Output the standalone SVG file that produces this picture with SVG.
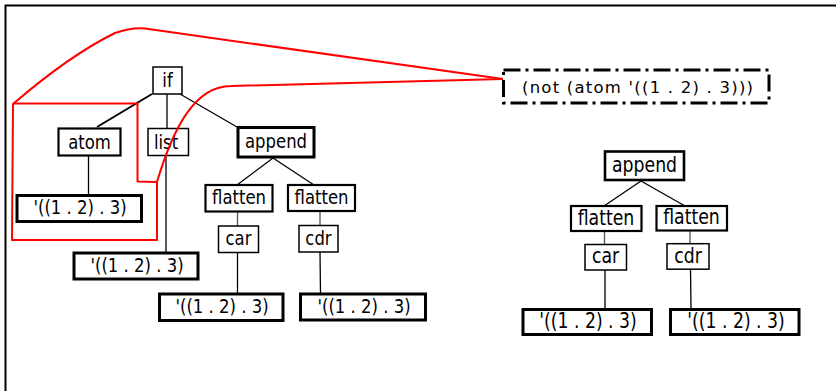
<svg xmlns="http://www.w3.org/2000/svg" width="837" height="391" viewBox="0 0 837 391">
<style>
text{font-family:"DejaVu Sans","Liberation Sans",sans-serif;font-size:16.5px;fill:#000;text-anchor:middle}
.r text{font-size:17.3px}
rect{fill:#fff;stroke:#000}
.t1{stroke-width:1.5}
.t2{stroke-width:2.2}
.t3{stroke-width:3}
.c line{stroke:#000;stroke-width:1.3}
.c line.g{stroke:#555}
.red{fill:none;stroke:#f00;stroke-width:2;stroke-linejoin:round}
</style>
<rect x="0" y="0" width="837" height="391" style="fill:#fff;stroke:none"/>
<path d="M5.5,391 V5.5 H836" fill="none" stroke="#000" stroke-width="2"/>

<g id="connectors" class="c">
<line x1="152" y1="94" x2="97" y2="127" style="stroke-width:2"/>
<line x1="167" y1="94" x2="167" y2="128.5"/>
<line x1="180" y1="94" x2="237" y2="127"/>
<line x1="88.5" y1="156" x2="88.5" y2="195.5"/>
<line x1="166" y1="156" x2="166" y2="253"/>
<line x1="273" y1="158" x2="237" y2="185"/>
<line x1="273" y1="158" x2="314" y2="185"/>
<line class="g" x1="237.5" y1="212" x2="237.5" y2="226"/>
<line class="g" x1="320" y1="211" x2="320" y2="225.5"/>
<line x1="237.5" y1="252.5" x2="237.5" y2="294"/>
<line x1="320" y1="252" x2="320.5" y2="294"/>
<line x1="641" y1="181" x2="604" y2="206"/>
<line x1="641" y1="181" x2="685" y2="206"/>
<line class="g" x1="604.5" y1="231" x2="604.5" y2="244.5"/>
<line class="g" x1="690" y1="230.5" x2="690" y2="243.7"/>
<line x1="605" y1="270" x2="605" y2="309.5"/>
<line x1="690.5" y1="269" x2="691" y2="309.5"/>
</g>

<g id="n-if"><rect class="t1" x="153" y="67" width="29" height="27"/><text transform="translate(167.5 86.5) scale(1 1.18)">if</text></g>
<g id="n-atom"><rect class="t2" x="58.5" y="128.5" width="62" height="27"/><text transform="translate(89.5 148.5) scale(1 1.18)">atom</text></g>
<g id="n-list"><rect class="t1" x="148" y="128.5" width="40.5" height="27"/><text transform="translate(166 148.5) scale(1 1.18)">list</text></g>
<g id="n-append"><rect class="t3" x="238" y="127.5" width="76" height="29.5"/><text transform="translate(276 148) scale(1 1.18)">append</text></g>
<g id="n-flatten1"><rect class="t2" x="205.5" y="185" width="67" height="26.5"/><text transform="translate(239 203.7) scale(1 1.18)">flatten</text></g>
<g id="n-flatten2"><rect class="t2" x="288" y="185" width="67" height="26"/><text transform="translate(321.5 203.5) scale(1 1.18)">flatten</text></g>
<g id="n-car1"><rect class="t1" x="218.5" y="226" width="40" height="26.5"/><text transform="translate(238.5 245) scale(1 1.18)">car</text></g>
<g id="n-cdr1"><rect class="t1" x="299" y="225.5" width="39" height="26.5"/><text transform="translate(318.5 244.5) scale(1 1.18)">cdr</text></g>
<g id="n-leaf-atom"><rect class="t3" x="17" y="195.5" width="124.5" height="26"/><text transform="translate(80 214) scale(1 1.18)">'((1 . 2) . 3)</text></g>
<g id="n-leaf-list"><rect class="t3" x="74" y="253" width="124" height="26"/><text transform="translate(137 271.5) scale(1 1.18)">'((1 . 2) . 3)</text></g>
<g id="n-leaf-car1"><rect class="t3" x="159.5" y="294" width="123.5" height="26.5"/><text transform="translate(222 312.7) scale(1 1.18)">'((1 . 2) . 3)</text></g>
<g id="n-leaf-cdr1"><rect class="t3" x="300.5" y="294" width="125" height="26"/><text transform="translate(364 312.5) scale(1 1.18)">'((1 . 2) . 3)</text></g>

<g class="r">
<g id="n-append2"><rect class="t3" x="605" y="151.5" width="79" height="28.5" style="stroke-width:2.6"/><text transform="translate(644.5 171.7) scale(1 1.18)">append</text></g>
<g id="n-flatten3"><rect class="t2" x="571" y="206" width="70.5" height="25"/><text transform="translate(606 224.5) scale(1 1.18)">flatten</text></g>
<g id="n-flatten4"><rect class="t2" x="656.5" y="206" width="70.5" height="24.5"/><text transform="translate(691.5 224.3) scale(1 1.18)">flatten</text></g>
<g id="n-car2"><rect class="t1" x="585" y="244.5" width="41.5" height="25.5"/><text transform="translate(605.5 263.2) scale(1 1.18)">car</text></g>
<g id="n-cdr2"><rect class="t1" x="667" y="243.7" width="42" height="25.5"/><text transform="translate(688 262.5) scale(1 1.18)">cdr</text></g>
<g id="n-leaf-car2"><rect class="t3" x="523" y="309.5" width="128.5" height="25"/><text transform="translate(588 328) scale(1 1.18)">'((1 . 2) . 3)</text></g>
<g id="n-leaf-cdr2"><rect class="t3" x="670.5" y="309.5" width="128.5" height="25"/><text transform="translate(736 328) scale(1 1.18)">'((1 . 2) . 3)</text></g>
</g>

<g id="annotation">
<path class="red" d="M503,79 L145,28.5 Q132,27 115,33 Q70,55 13,104 L12,240 L157,240 L157,182"/>
<path class="red" d="M13,103.5 L137.5,103.5 L137.5,181.5 L157,182 C174,125 196,86 231,86 L503,79"/>
</g>

<g id="n-not">
<rect x="503.5" y="70" width="265.5" height="33" style="stroke-width:3;stroke-dasharray:17 5 3 5"/>
<text x="637.5" y="93" style="font-size:16.5px" textLength="231" lengthAdjust="spacing">(not (atom '((1 . 2) . 3)))</text>
</g>
</svg>
